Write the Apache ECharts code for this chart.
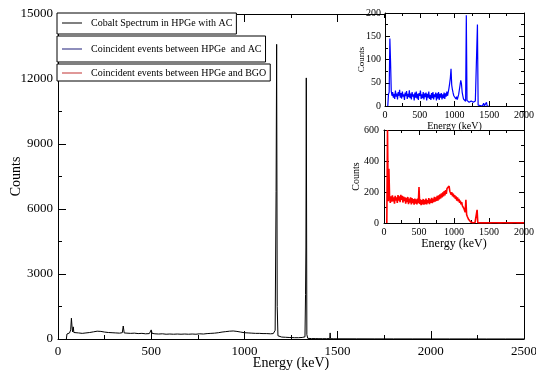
<!DOCTYPE html>
<html>
<head>
<meta charset="utf-8">
<script src="https://cdn.jsdelivr.net/npm/echarts@6/dist/echarts.min.js"></script>
<style>html,body{margin:0;padding:0;background:#fff}#c{width:536px;height:370px}</style>
</head>
<body>
<div id="c"></div>
<script>
// ---- data ----
const seriesNames = ['Cobalt Spectrum in HPGe with AC', 'Coincident events between HPGe  and AC', 'Coincident events between HPGe and BGO'];

const mainEnergy = [45,48,55,62,68,72,75,78,82,85,95,110,130,150,170,190,210,230,250,270,290,310,330,345,350,355,370,390,410,430,450,470,490,500,505,520,540,560,580,600,620,640,660,680,700,720,740,760,780,800,820,840,860,880,900,920,940,960,980,1000,1020,1040,1060,1080,1100,1120,1140,1155,1165,1170,1173,1176,1180,1190,1200,1220,1240,1244,1248,1270,1290,1310,1325,1328,1330,1332,1335,1340,1360,1380,1400,1420,1440,1458,1460,1462,1480,1500,1600,1700,1800,1900,2000,2100,2200,2300,2400,2500];
const mainCounts = [0,230,260,280,420,960,600,330,560,300,270,280,260,280,300,330,360,350,320,300,290,280,270,290,600,280,270,260,270,250,260,240,250,420,260,240,230,240,220,230,220,230,220,230,220,230,220,240,230,250,260,270,290,320,340,360,370,350,320,290,280,270,260,260,250,250,240,250,400,6800,13600,1500,150,100,90,80,70,150,70,60,60,70,100,2050,4200,12050,200,30,20,20,15,15,15,20,280,15,10,10,8,6,5,5,4,3,3,2,2,2];

// inset spectra: channel energies start at 40 keV, 10 keV per channel
const blueStartKeV = 40, blueStepKeV = 10;
const blueCounts = [0,25,30,145,95,32,22,30,18,26,15,33,20,27,14,30,22,35,18,28,16,31,20,25,13,29,21,32,15,26,19,34,17,27,14,30,20,25,12,29,18,31,16,26,13,28,22,33,15,25,17,30,14,27,19,29,12,26,18,31,15,24,13,28,17,30,14,25,19,29,12,27,16,30,13,26,18,28,14,25,17,29,15,27,20,31,22,30,38,48,60,80,45,35,28,22,18,24,15,20,14,18,25,35,45,55,48,30,22,15,12,14,10,195,12,10,14,8,12,9,11,7,12,8,10,9,11,8,10,175,2,1,0,1,0,2,0,1,6,0,1,0,8,0,1,0,0];

const redStartKeV = 40, redStepKeV = 10;
const redCounts = [0,600,140,350,160,130,172,138,178,140,165,125,175,145,165,130,180,145,172,135,182,150,175,132,170,142,165,125,162,135,168,122,158,132,165,120,160,128,155,118,158,125,152,120,158,128,232,122,152,115,148,120,155,118,150,122,158,120,148,128,160,122,152,130,162,128,158,135,168,138,165,142,175,145,178,152,185,158,192,165,198,172,205,178,212,188,222,232,215,238,205,195,182,198,172,190,165,180,155,172,145,165,140,155,130,145,120,135,110,112,95,85,70,150,55,42,30,22,15,10,6,4,3,2,3,2,3,2,2,85,2,3,2,1,2,3,1,2,2,1,3,2,1,2,2,1,2,3,1,2,1,2,2,1,2,1,3,2,1,2,1,2,2,1,2,1,2,1,1,2,1,2,1,1,2,1,1,2,1,2,1,2,1,1,2,1,2,1,1,2,1,1,2,1,1,2,1];

const mainXTicks = {min: 0, max: 2500, interval: 500};
const mainYTicks = {min: 0, max: 15000, interval: 3000};
const insetXTicks = {min: 0, max: 2000, interval: 500};
const inset1YTicks = {min: 0, max: 200, interval: 50};
const inset2YTicks = {min: 0, max: 600, interval: 200};

// ---- build ----
const FONT = 'Liberation Serif';
function zipPairs(xs, ys) { return xs.map((x, i) => [x, ys[i]]); }
function channelPairs(start, step, ys) { return ys.map((y, i) => [start + i * step, y]); }
const plain = v => String(v);

function xAx(grid, ticks, pos, o) {
  o = o || {};
  const ax = {
    type: 'value', gridIndex: grid, position: pos, min: ticks.min, max: ticks.max, interval: ticks.interval,
    axisLine: {show: true, onZero: false, lineStyle: {color: '#000', width: 1}},
    axisTick: {show: true, inside: true, length: o.tickLen || 8, lineStyle: {color: '#000'}},
    minorTick: {show: true, splitNumber: 2, length: o.minorLen || 4, lineStyle: {color: '#000'}},
    splitLine: {show: false},
    axisLabel: {show: pos === 'bottom', formatter: plain, color: '#000', fontFamily: FONT, fontSize: o.fs || 13, margin: o.margin || 6, showMinLabel: true, showMaxLabel: true, hideOverlap: false},
    z: o.z || 0
  };
  if (pos === 'bottom' && o.name) {
    ax.name = o.name; ax.nameLocation = 'middle'; ax.nameGap = o.nameGap; ax.nameMoveOverlap = false;
    ax.nameTextStyle = {color: '#000', fontFamily: FONT, fontSize: o.nfs};
  }
  return ax;
}
function yAx(grid, ticks, pos, o) {
  o = o || {};
  const ax = {
    type: 'value', gridIndex: grid, position: pos, min: ticks.min, max: ticks.max, interval: ticks.interval,
    axisLine: {show: true, onZero: false, lineStyle: {color: '#000', width: 1}},
    axisTick: {show: true, inside: true, length: o.tickLen || 8, lineStyle: {color: '#000'}},
    minorTick: {show: true, splitNumber: 2, length: o.minorLen || 4, lineStyle: {color: '#000'}},
    splitLine: {show: false},
    axisLabel: {show: pos === 'left', formatter: plain, color: '#000', fontFamily: FONT, fontSize: o.fs || 13, margin: o.margin || 5, showMinLabel: true, showMaxLabel: true, hideOverlap: false},
    z: o.z || 0
  };
  if (pos === 'left' && o.name) {
    ax.name = o.name; ax.nameLocation = 'middle'; ax.nameGap = o.nameGap; ax.nameMoveOverlap = false;
    ax.nameTextStyle = {color: '#000', fontFamily: FONT, fontSize: o.nfs};
  }
  return ax;
}

function legendBox(name, color, top, padding) {
  return {
    data: [{name: name, itemStyle: {color: color}}],
    left: 57, top: top, orient: 'horizontal',
    icon: 'rect', itemWidth: 20, itemHeight: 1,
    borderColor: '#000', borderWidth: 1, padding: padding,
    backgroundColor: '#fff',
    textStyle: {color: '#000', fontFamily: FONT, fontSize: 10, padding: [0, 0, 0, 4]},
    selectedMode: false
  };
}

const chart = echarts.init(document.getElementById('c'), null, {renderer: 'canvas'});
chart.setOption({
  animation: false,
  backgroundColor: '#fff',
  grid: [
    {left: 58, top: 14, width: 466, height: 325, containLabel: false, outerBoundsMode: 'none'},
    {left: 385, top: 13, width: 139, height: 93, containLabel: false, outerBoundsMode: 'none', show: true, backgroundColor: '#fff', borderWidth: 0, z: 10},
    {left: 384, top: 130, width: 140, height: 93, containLabel: false, outerBoundsMode: 'none', show: true, backgroundColor: '#fff', borderWidth: 0, z: 10}
  ],
  legend: [
    legendBox(seriesNames[0], '#000', 13, [5, 4, 6, 5]),
    legendBox(seriesNames[1], '#1c1c78', 36, [8, 4, 8, 5]),
    legendBox(seriesNames[2], '#c03030', 64, [4, 4, 3, 5])
  ],
  xAxis: [
    xAx(0, mainXTicks, 'bottom', {name: 'Energy (keV)', nameGap: 17, nfs: 14, fs: 13, margin: 6}),
    xAx(0, mainXTicks, 'top', {}),
    xAx(1, insetXTicks, 'bottom', {name: 'Energy (keV)', nameGap: 15, nfs: 10, fs: 10, margin: 4, tickLen: 5, minorLen: 3, z: 11}),
    xAx(1, insetXTicks, 'top', {tickLen: 5, minorLen: 3, z: 11}),
    xAx(2, insetXTicks, 'bottom', {name: 'Energy (keV)', nameGap: 15, nfs: 12, fs: 10, margin: 4, tickLen: 5, minorLen: 3, z: 11}),
    xAx(2, insetXTicks, 'top', {tickLen: 5, minorLen: 3, z: 11})
  ],
  yAxis: [
    yAx(0, mainYTicks, 'left', {name: 'Counts', nameGap: 35, nfs: 14, fs: 13, margin: 5}),
    yAx(0, mainYTicks, 'right', {}),
    yAx(1, inset1YTicks, 'left', {name: 'Counts', nameGap: 19, nfs: 9, fs: 10, margin: 4, tickLen: 5, minorLen: 3, z: 11}),
    yAx(1, inset1YTicks, 'right', {tickLen: 5, minorLen: 3, z: 11}),
    yAx(2, inset2YTicks, 'left', {name: 'Counts', nameGap: 23, nfs: 10, fs: 10, margin: 5, tickLen: 5, minorLen: 3, z: 11}),
    yAx(2, inset2YTicks, 'right', {tickLen: 5, minorLen: 3, z: 11})
  ],
  series: [
    {name: seriesNames[0], type: 'line', xAxisIndex: 0, yAxisIndex: 0, showSymbol: false, symbol: 'none',
     data: zipPairs(mainEnergy, mainCounts), itemStyle: {color: '#000'}, lineStyle: {color: '#000', width: 1}, z: 2},
    {name: seriesNames[1], type: 'line', xAxisIndex: 2, yAxisIndex: 2, showSymbol: false, symbol: 'none',
     data: channelPairs(blueStartKeV, blueStepKeV, blueCounts), itemStyle: {color: '#1c1c78'}, lineStyle: {color: '#0000ff', width: 1.2}, z: 12},
    {name: seriesNames[2], type: 'line', xAxisIndex: 4, yAxisIndex: 4, showSymbol: false, symbol: 'none',
     data: channelPairs(redStartKeV, redStepKeV, redCounts), itemStyle: {color: '#c03030'}, lineStyle: {color: '#ff0000', width: 1.6}, z: 12}
  ]
});
</script>
</body>
</html>
